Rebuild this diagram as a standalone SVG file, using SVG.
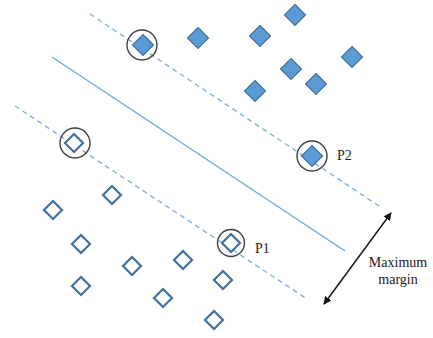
<svg xmlns="http://www.w3.org/2000/svg" width="433" height="338" viewBox="0 0 433 338">
<style>
.dash{stroke:#7fb0e0;stroke-width:1.4;stroke-dasharray:5 4;fill:none}
.solid{stroke:#6fa8dc;stroke-width:1.4;fill:none}
.pos{fill:#5b9bd5;stroke:#41719c;stroke-width:1.2}
.neg{fill:#fff;stroke:#41719c;stroke-width:2.2}
.ring{fill:none;stroke:#404040;stroke-width:1.4}
.lbl{font-family:"Liberation Serif",serif;font-size:14px;fill:#222}
</style>
<defs>
<path id="d" d="M0,-10.5 L10.5,0 L0,10.5 L-10.5,0 Z"/>
<path id="h" d="M0,-9 L9,0 L0,9 L-9,0 Z"/>
<marker id="ah" viewBox="0 0 10 10" refX="9" refY="5" markerWidth="8" markerHeight="8" orient="auto-start-reverse" markerUnits="userSpaceOnUse"><path d="M0,0 L10,5 L0,10 Z" fill="#111"/></marker>
</defs>
<g id="connectors">
<line class="dash" x1="90" y1="14" x2="382" y2="208"/>
<line class="solid" x1="52" y1="57" x2="345" y2="251"/>
<line class="dash" x1="15" y1="106" x2="307" y2="299"/>
<line x1="324" y1="304" x2="391" y2="213" stroke="#111" stroke-width="1.4" marker-start="url(#ah)" marker-end="url(#ah)"/>
</g>
<g id="positives">
<use href="#d" class="pos" x="143" y="45"/>
<use href="#d" class="pos" x="198" y="38"/>
<use href="#d" class="pos" x="295" y="15"/>
<use href="#d" class="pos" x="260" y="36"/>
<use href="#d" class="pos" x="352" y="57"/>
<use href="#d" class="pos" x="291" y="69"/>
<use href="#d" class="pos" x="316" y="84"/>
<use href="#d" class="pos" x="255" y="91"/>
<use href="#d" class="pos" x="312" y="156"/>
</g>
<g id="negatives">
<use href="#h" class="neg" x="74" y="143"/>
<use href="#h" class="neg" x="53" y="210"/>
<use href="#h" class="neg" x="112" y="195"/>
<use href="#h" class="neg" x="81" y="244"/>
<use href="#h" class="neg" x="132" y="266"/>
<use href="#h" class="neg" x="183" y="260"/>
<use href="#h" class="neg" x="81" y="286"/>
<use href="#h" class="neg" x="163" y="298"/>
<use href="#h" class="neg" x="231" y="243"/>
<use href="#h" class="neg" x="223" y="280"/>
<use href="#h" class="neg" x="214" y="320"/>
</g>
<g id="support-vectors">
<circle class="ring" cx="142" cy="45" r="15"/>
<circle class="ring" cx="75" cy="143" r="15"/>
<circle class="ring" cx="312" cy="156" r="15"/>
<circle class="ring" cx="231" cy="243" r="13.5"/>
</g>
<g id="labels">
<text class="lbl" x="337" y="160">P2</text>
<text class="lbl" x="255" y="253">P1</text>
<text class="lbl" x="398" y="267" text-anchor="middle">Maximum</text>
<text class="lbl" x="398" y="284" text-anchor="middle">margin</text>
</g>
</svg>
